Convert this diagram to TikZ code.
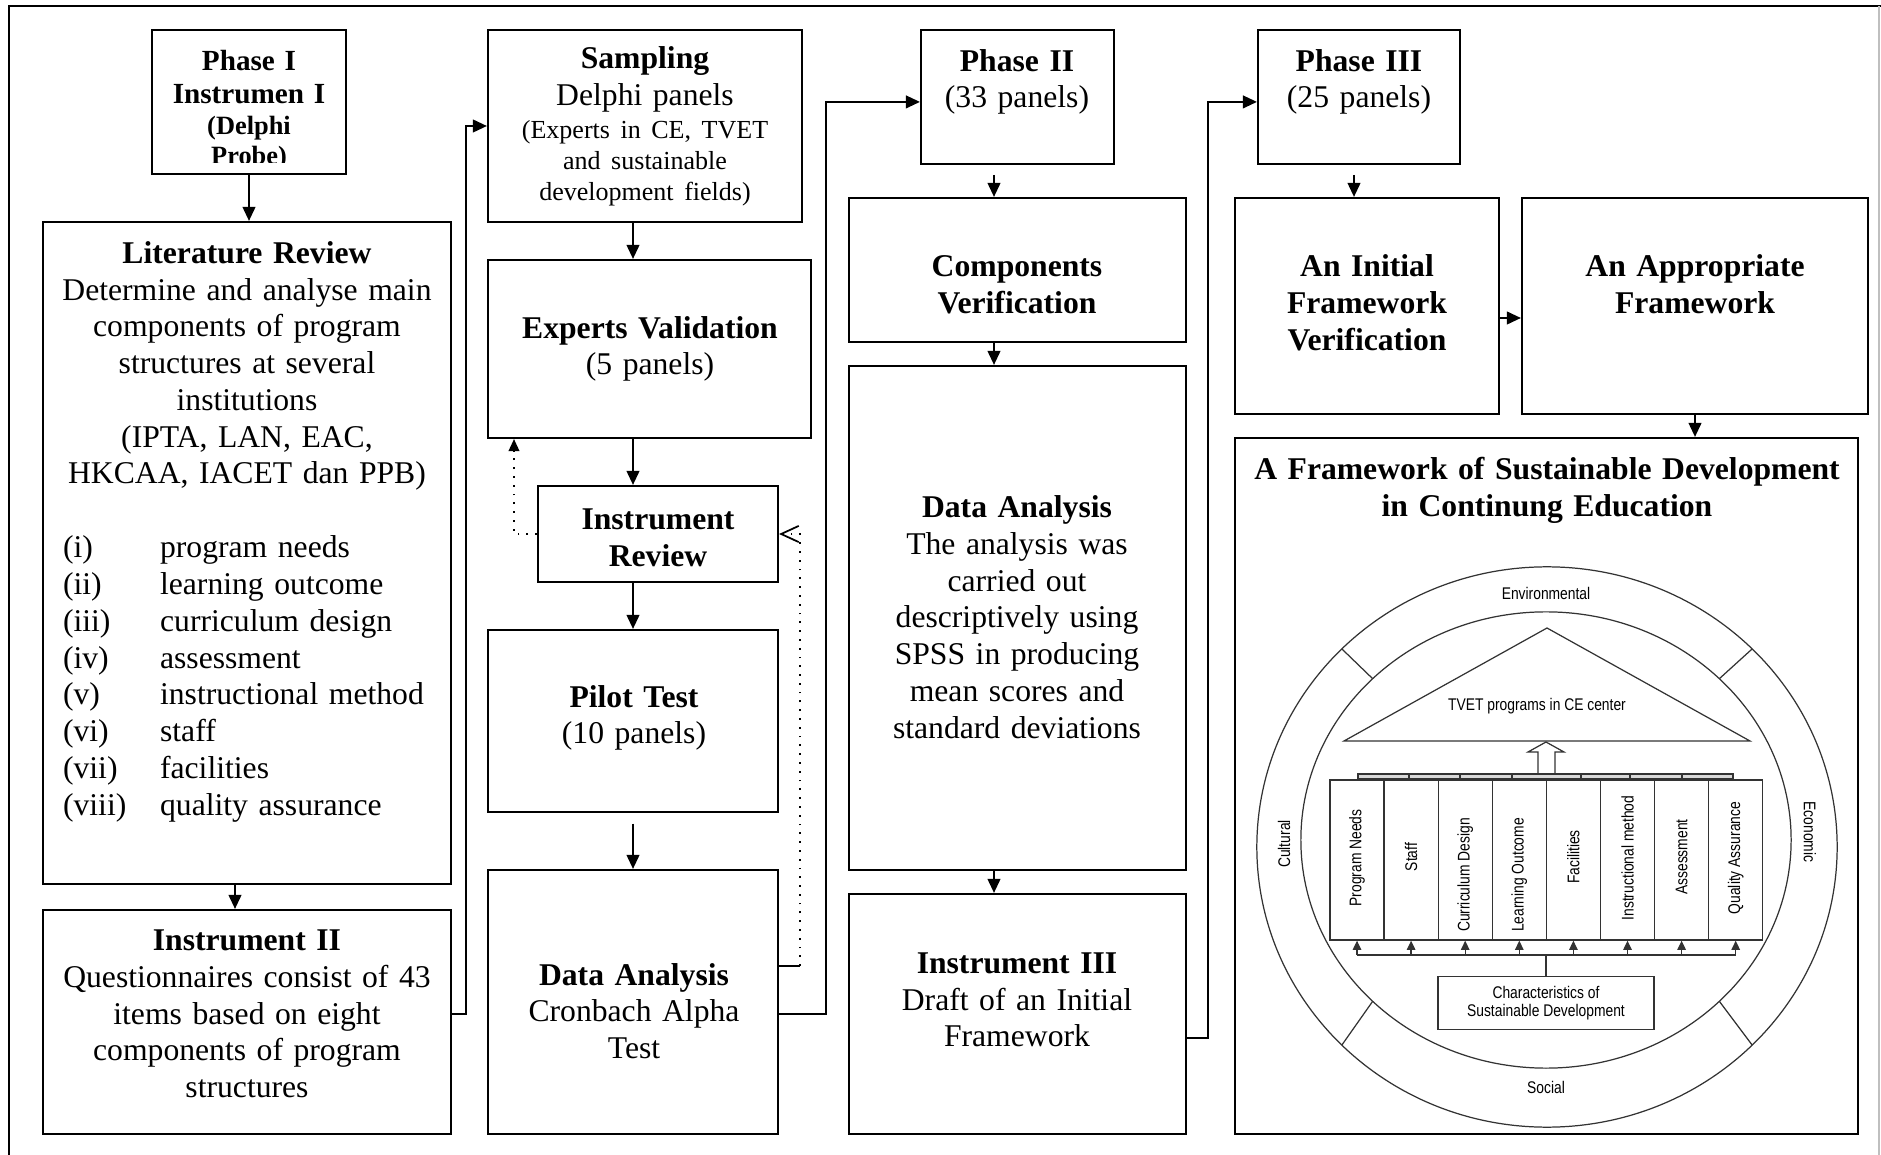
\documentclass[tikz,border=0pt]{standalone}
\usepackage{fontspec}
\setmainfont{Liberation Serif}
\setsansfont{Liberation Sans}
\usepackage{graphicx}
\usepackage{tikz}
\usetikzlibrary{arrows.meta}
\usetikzlibrary{positioning}
\usetikzlibrary{calc}
\usetikzlibrary{fit}
\newcommand{\narrow}[1]{\scalebox{0.82}[1]{#1}}

\begin{document}
\begin{tikzpicture}[x=0.01cm, y=-0.01cm, line width=0.6pt,
  >={Triangle[length=4pt,width=3.6pt]},
  box/.style={draw, inner sep=0pt},
  txt/.style={align=center, inner sep=0pt, text width=#1, font=\fontsize{9}{10.45}\selectfont},
  txt/.default=3cm,
  fb/.style={dotted, line width=0.5pt},
  thinline/.style={line width=0.35pt, draw=black!80},
  sml/.style={inner sep=0pt, font=\sffamily\fontsize{4.8}{5.3}\selectfont},
  smallarr/.style={thinline, -{Triangle[length=2.6pt,width=2.4pt]}}]
\useasboundingbox (0,0) rectangle (1881,1155);
% frame
\draw (9,1155) -- (9,6) -- (1881,6);
\draw[black!25] (1879,6) -- (1879,1155);

% column 1
\node[box, fit={(152,30) (346,174)}] (phase1) {};
\begin{scope}
\clip (152,30) rectangle (346,163);
\node[txt=1.8cm, font=\bfseries\fontsize{8.3}{9.6}\selectfont] (phase1txt) at (249,110)
  {Phase I\\Instrumen I\\{\fontsize{7.5}{8.6}\selectfont (Delphi\\Probe)\par}};
\end{scope}
\node[box, fit={(43,222) (451,884)}] (litrev) {};
\node[txt=3.95cm] (litrevtxt) at (247,366) {{\bfseries Literature Review}\\Determine and analyse main\\components of program\\structures at several\\institutions\\(IPTA, LAN, EAC,\\HKCAA, IACET dan PPB)};
\node[txt=3.8cm, align=left, anchor=west] (litrevlist) at (62,679) {\makebox[27.6pt][l]{(i)}program needs\\
  \makebox[27.6pt][l]{(ii)}learning outcome\\
  \makebox[27.6pt][l]{(iii)}curriculum design\\
  \makebox[27.6pt][l]{(iv)}assessment\\
  \makebox[27.6pt][l]{(v)}instructional method\\
  \makebox[27.6pt][l]{(vi)}staff\\
  \makebox[27.6pt][l]{(vii)}facilities\\
  \makebox[27.6pt][l]{(viii)}quality assurance};
\node[box, fit={(43,910) (451,1134)}] (instr2) {};
\node[txt=3.95cm] (instr2txt) at (247,1014) {{\bfseries Instrument II}\\Questionnaires consist of 43\\items based on eight\\components of program\\structures};

% column 2
\node[box, fit={(488,30) (802,222)}] (sampling) {};
\node[txt=3cm] (samplingtxt) at (645,128) {{\bfseries Sampling}\\Delphi panels\\[-1pt]{\fontsize{7.4}{8.8}\selectfont\begin{tabular}[t]{@{}c@{}}(Experts in CE, TVET\\and sustainable\\development fields)\end{tabular}}};
\node[box, fit={(488,260) (811,438)}] (expval) {};
\node[txt=3.1cm] (expvaltxt) at (650,349) {{\bfseries Experts Validation}\\(5 panels)};
\node[box, fit={(538,486) (778,582)}] (instrrev) {};
\node[txt=2.3cm, font=\bfseries\fontsize{9}{10.45}\selectfont] (instrrevtxt) at (658,538) {Instrument\\Review};
\node[box, fit={(488,630) (778,812)}] (pilot) {};
\node[txt=2.8cm] (pilottxt) at (634,718) {{\bfseries Pilot Test}\\(10 panels)};
\node[box, fit={(488,870) (778,1134)}] (da1) {};
\node[txt=2.8cm] (da1txt) at (634,1011) {{\bfseries Data Analysis}\\Cronbach Alpha\\Test};

% column 3
\node[box, fit={(921,30) (1114,164)}] (phase2) {};
\node[txt=1.9cm] (phase2txt) at (1017,82) {{\bfseries Phase II}\\(33 panels)};
\node[box, fit={(849,198) (1186,342)}] (compver) {};
\node[txt=3.2cm, font=\bfseries\fontsize{9}{10.45}\selectfont] (compvertxt) at (1017,285) {Components\\Verification};
\node[box, fit={(849,366) (1186,870)}] (da2) {};
\node[txt=3.2cm] (da2txt) at (1017,617) {{\bfseries Data Analysis}\\The analysis was\\carried out\\descriptively using\\SPSS in producing\\mean scores and\\standard deviations};
\node[box, fit={(849,894) (1186,1134)}] (instr3) {};
\node[txt=3.2cm] (instr3txt) at (1017,1000) {{\bfseries Instrument III}\\Draft of an Initial\\Framework};

% column 4
\node[box, fit={(1258,30) (1460,164)}] (phase3) {};
\node[txt=1.9cm] (phase3txt) at (1359,82) {{\bfseries Phase III}\\(25 panels)};
\node[box, fit={(1235,198) (1499,414)}] (initfw) {};
\node[txt=2.5cm, font=\bfseries\fontsize{9}{10.45}\selectfont] (initfwtxt) at (1367,303) {An Initial\\Framework\\Verification};
\node[box, fit={(1522,198) (1868,414)}] (appfw) {};
\node[txt=3.3cm, font=\bfseries\fontsize{9}{10.45}\selectfont] (appfwtxt) at (1695,284) {An Appropriate\\Framework};
\node[box, fit={(1235,438) (1858,1134)}] (framework) {};
\node[txt=6cm, font=\bfseries\fontsize{9}{10.45}\selectfont] (fwtitle) at (1547,490) {A Framework of Sustainable Development\\in Continung Education};

% framework picture
\coordinate (octr) at (1547,847);
\coordinate (ictr) at (1546,840);
\draw[thinline] (octr) ellipse [x radius=2.9cm, y radius=2.8cm];
\draw[thinline] (ictr) ellipse [x radius=2.45cm, y radius=2.28cm];
\foreach \a in {45,135,225,315}
  \draw[thinline] ($(ictr)+(\a:2.45cm and 2.28cm)$) -- ($(octr)+(\a:2.9cm and 2.8cm)$);
\node[sml] (env) at (1546,593) {\narrow{Environmental}};
\node[sml] (soc) at (1546,1087) {\narrow{Social}};
\node[sml, rotate=90] (cult) at (1284,844) {\narrow{Cultural}};
\node[sml, rotate=-90] (econ) at (1810,832) {\narrow{Economic}};
\coordinate (roof) at (1547,628);
\draw[thinline] (1344,741) -- (roof) -- (1750,741) -- cycle;
\node[sml] (tvet) at (1537,706) {\narrow{TVET programs in CE center}};
\draw[thinline, fill=white] (1538,776) -- (1538,752) -- (1528,752) -- (1546,742)
  -- (1564,752) -- (1555,752) -- (1555,776);
\draw[thinline, fill=black!15] (1358,774) rectangle (1733,779);
\foreach \x in {1409,1460,1512,1581,1630,1682}
  \draw[thinline] (\x,774) -- (\x,779);
\foreach \i/\lbl/\yy in {0/Program Needs/858, 1/Staff/857, 2/Curriculum Design/875,
    3/Learning Outcome/875, 4/Facilities/857, 5/Instructional method/858,
    6/Assessment/857, 7/Quality Assurance/858} {
  \node[thinline, inner sep=0pt, minimum width=0.541cm, minimum height=1.6cm] (pillar\i) at (1357+54.1*\i,860) {};
  \node[sml, rotate=90] (plbl\i) at (1357+54.1*\i,\yy) {\narrow{\lbl}};
}
\coordinate (rail) at (0,955);
\draw[thinline] (pillar0.south |- rail) -- (pillar7.south |- rail);
\foreach \i in {0,...,7}
  \draw[smallarr] (pillar\i.south |- rail) -- (pillar\i.south);
\node[sml, thinline, align=center, minimum width=2.16cm, minimum height=0.53cm] (charsd) at (1546,1003)
  {\narrow{Characteristics of}\\\narrow{Sustainable Development}};
\draw[thinline] (charsd.north) -- (charsd.north |- rail);

% connectors
\coordinate (axA) at (235,0);
\coordinate (axB) at (633,0);
\coordinate (axC) at (994,0);
\coordinate (axD) at (1354,0);
\coordinate (axE) at (0,318);
\coordinate (axF) at (514,0);
\coordinate (jA) at (466,1014);
\coordinate (jB) at (826,1014);
\coordinate (jC) at (1208,1038);
\coordinate (jF) at (800,966);
\draw[->] (phase1.south) -- (phase1.south |- litrev.north);
\draw[->] (litrev.south -| axA) -- (instr2.north -| axA);
\draw[->] (instr2.east |- jA) -- (jA) |- (sampling.west);
\draw[->] (sampling.south -| axB) -- (expval.north -| axB);
\draw[->] (expval.south -| axB) -- (instrrev.north -| axB);
\draw[->] (instrrev.south -| axB) -- (pilot.north -| axB);
\draw[->, shorten <=3pt] (pilot.south -| axB) -- (da1.north -| axB);
\draw[fb, -{Triangle[length=3.4pt,width=3pt]}] (instrrev.west) -| (expval.south -| axF);
\draw (da1.east |- jF) -- (jF);
\draw[fb, -{Straight Barb[length=5pt,width=4.6pt]}] (jF) |- (instrrev.east);
\draw[->] (da1.east |- jB) -- (jB) |- ([yshift=-1.4pt]phase2.west);
\draw[->, shorten <=2.8pt] (phase2.south -| axC) -- (compver.north -| axC);
\draw[->] (compver.south -| axC) -- (da2.north -| axC);
\draw[->] (da2.south -| axC) -- (instr3.north -| axC);
\draw[->] (instr3.east |- jC) -- (jC) |- ([yshift=-1.4pt]phase3.west);
\draw[->, shorten <=2.8pt] (phase3.south -| axD) -- (initfw.north -| axD);
\draw[->] (initfw.east |- axE) -- (appfw.west |- axE);
\draw[->] (appfw.south) -- (appfw.south |- framework.north);
\end{tikzpicture}
\end{document}
